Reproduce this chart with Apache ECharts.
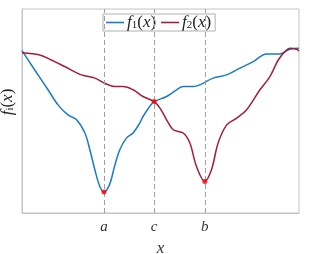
<!DOCTYPE html>
<html>
<head>
<meta charset="utf-8">
<script src="https://cdn.jsdelivr.net/npm/echarts@6/dist/echarts.min.js"></script>
<style>html,body{margin:0;padding:0;background:#fff}#c{width:309px;height:254px}</style>
</head>
<body>
<div id="c"></div>
<script>
// x positions (0..100) and values (0..100)
const f1X = [0,4.6,9.4,13.0,16.6,19.7,22.7,24.5,26.3,28.1,29.6,31.6,33.4,35.3,37.7,40.1,42.5,43.7,46.1,47.7,52.2,55.8,58.2,61.8,64.2,69.0,73.9,78.7,83.5,88.3,93.1,96.7,100];
const f1Y = [79.6,70.1,60.4,53.0,48.1,45.7,39.2,31.0,21.2,13.0,10.3,13.9,22.8,31.0,36.7,39.2,44.1,47.3,52.2,54.6,57.1,60.4,62.0,62.0,62.8,66.1,67.7,71.0,74.2,78.0,78.0,80.3,80.8];
const f2X = [0,6.4,10.6,15.4,21.5,26.3,29.9,33.5,36.5,40.1,43.7,47.7,49.8,52.2,54.6,58.2,60.6,63.0,66.0,68.4,70.8,73.9,77.5,81.1,85.9,89.5,92.5,94.9,96.7,99.1,100];
const f2Y = [78.6,77.5,75.0,71.8,67.7,66.1,63.6,62.0,62.0,60.4,57.1,54.6,51.4,45.7,40.8,39.2,34.3,22.8,15.5,21.2,34.3,43.2,46.5,50.6,60.4,66.9,75.0,79.1,80.8,80.3,79.4];
const tickPos = [29.6, 47.7, 66.0];
const tickLabels = ['a', 'c', 'b'];
const markX = [29.6, 47.7, 66.0];
const markY = [10.3, 54.6, 15.5];
const seriesNames = ['f1', 'f2'];

const zip = (xs, ys) => xs.map((x, i) => [x, ys[i]]);
const serif = 'Liberation Serif';
const rich = {
  i: {fontFamily: serif, fontStyle: 'italic', fontSize: 17, color: '#222'},
  u: {fontFamily: serif, fontSize: 17, color: '#222'},
  s: {fontFamily: serif, fontSize: 11, color: '#222', verticalAlign: 'bottom', padding: [6, 0, 0, 0]}
};
const chart = echarts.init(document.getElementById('c'), null, {renderer: 'canvas'});
chart.setOption({
  animation: false,
  grid: {left: 22, right: 10, top: 9, bottom: 41, show: true, borderColor: '#c4c4c4', borderWidth: 1,
         outerBoundsMode: 'none', containLabel: false},
  legend: {
    top: 14, left: 103,
    backgroundColor: '#fff', borderColor: '#b0b0b0', borderWidth: 1,
    padding: [0, 4, 0, 3], itemGap: 5,
    icon: 'rect', itemWidth: 18, itemHeight: 1.6,
    data: seriesNames,
    formatter: n => n === 'f1' ? '{i|f}{s|1}{u|(}{i|x}{u|)}' : '{i|f}{s|2}{u|(}{i|x}{u|)}',
    textStyle: {rich: rich, padding: [0, 0, 0, -2]}
  },
  xAxis: {
    type: 'value', min: 0, max: 100,
    name: 'x', nameLocation: 'middle', nameGap: 27,
    nameTextStyle: {fontFamily: serif, fontStyle: 'italic', fontSize: 17, color: '#333'},
    axisLine: {show: true, lineStyle: {color: '#c4c4c4'}},
    axisTick: {show: false},
    splitLine: {show: false},
    axisLabel: {
      customValues: tickPos, margin: 7,
      fontFamily: serif, fontStyle: 'italic', fontSize: 15, color: '#333',
      formatter: v => { const i = tickPos.findIndex(t => Math.abs(t - v) < 1e-6); return i >= 0 ? tickLabels[i] : ''; }
    }
  },
  yAxis: {
    type: 'value', min: 0, max: 100,
    name: '{i|f}{s|i}{u|(}{i|x}{u|)}', nameLocation: 'middle', nameGap: 6, nameRotate: 90,
    nameTextStyle: {rich: rich, padding: [0, 0, 0, 18]},
    axisLine: {show: true, lineStyle: {color: '#c4c4c4'}},
    axisTick: {show: false}, axisLabel: {show: false}, splitLine: {show: false}
  },
  series: [
    {
      type: 'line', name: 'guides', data: [], z: 1, silent: true,
      markLine: {
        silent: true, symbol: ['none', 'none'], label: {show: false},
        lineStyle: {color: '#a0a0a0', type: [5, 3], width: 1},
        data: tickPos.map(v => ({xAxis: v}))
      }
    },
    {type: 'line', name: 'f1', data: zip(f1X, f1Y), smooth: 0.35, showSymbol: false, z: 3,
     lineStyle: {color: '#1a7bc8', width: 1.5}, itemStyle: {color: '#1a7bc8'}},
    {type: 'line', name: 'f2', data: zip(f2X, f2Y), smooth: 0.35, showSymbol: false, z: 3,
     lineStyle: {color: '#a51d36', width: 1.5}, itemStyle: {color: '#a51d36'}},
    {type: 'scatter', name: 'pts', data: zip(markX, markY), symbolSize: 5, z: 5,
     itemStyle: {color: '#ff0000'}}
  ]
});
</script>
</body>
</html>
